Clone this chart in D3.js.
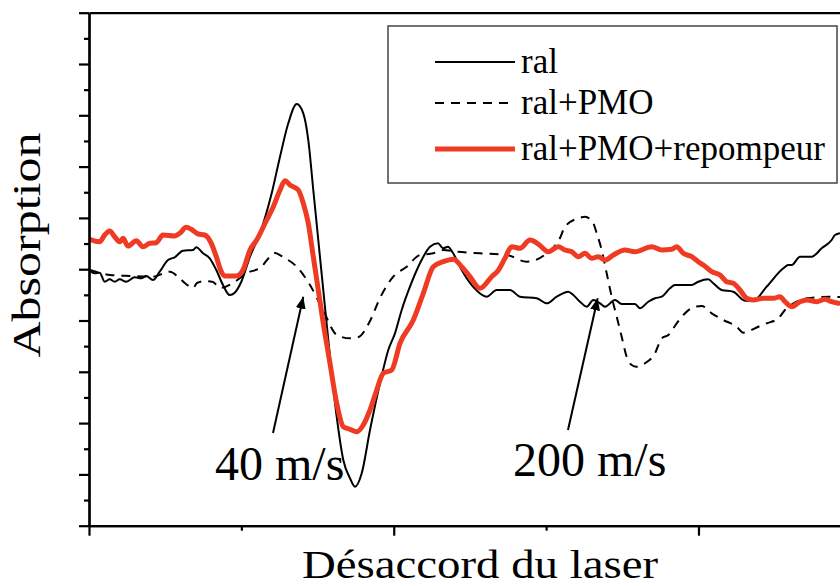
<!DOCTYPE html>
<html><head><meta charset="utf-8">
<script src="https://cdn.jsdelivr.net/npm/d3@7"></script>
<style>body{margin:0;background:#fff}svg{display:block}</style>
</head><body><svg id="c" width="840" height="586"></svg>
<script>
// ---- data (arbitrary units) ----
const seriesNames = ["ral", "ral+PMO", "ral+PMO+repompeur"];
const xTicksMajor = [0, 100, 200];
const xTicksMinor = [50, 150];
const yTicksMajor = [0,10,20,30,40,50,60,70,80,90,100];
const yTicksMinor = [5,15,25,35,45,55,65,75,85,95];
const xTitle = "Désaccord du laser";
const yTitle = "Absorption";

const ral = [[0.23,49.71],[1.87,49.20],[3.51,49.32],[5.15,47.56],[6.79,48.03],[8.43,47.56],[10.07,48.03],[12.24,47.56],[15.00,48.42],[17.16,48.23],[18.80,48.67],[21.00,47.89],[23.20,49.51],[25.92,51.79],[28.12,52.32],[30.85,53.61],[34.13,53.74],[35.21,54.27],[37.41,53.10],[39.61,52.12],[41.77,49.84],[43.97,46.92],[46.17,44.97],[47.81,45.42],[49.98,47.56],[52.83,52.44],[56.11,57.00],[59.95,64.79],[62.68,71.93],[65.40,78.44],[68.16,82.20],[70.32,80.39],[71.96,75.18],[73.60,65.44],[75.24,55.69],[76.88,45.94],[79.08,32.94],[81.28,21.25],[83.45,12.81],[85.65,9.24],[87.29,7.60],[89.49,10.21],[92.21,18.65],[95.49,27.76],[98.21,34.25],[100.41,37.50],[102.61,42.05],[105.33,46.59],[108.61,51.15],[111.90,54.39],[114.52,55.05],[116.16,54.07],[117.80,54.39],[119.44,53.16],[122.30,49.84],[126.01,46.59],[130.50,44.64],[133.78,45.95],[138.15,45.95],[141.43,44.64],[146.91,44.33],[150.19,43.35],[153.47,44.64],[157.28,45.61],[158.92,44.97],[161.12,43.66],[163.32,42.69],[165.48,44.00],[167.68,43.35],[169.32,42.69],[172.60,44.00],[174.80,43.22],[179.16,43.22],[180.80,42.38],[183.53,43.66],[185.73,44.33],[187.93,44.64],[190.65,46.28],[192.29,46.92],[197.77,46.92],[199.94,47.56],[203.22,48.03],[204.86,47.25],[207.62,45.95],[211.42,45.61],[215.26,43.86],[217.99,43.86],[222.38,46.59],[227.83,50.18],[229.47,50.82],[230.59,50.82],[233.31,52.44],[237.15,52.44],[240.43,54.07],[243.71,55.69],[244.80,56.67],[246.44,57.00]];

const ralPMO = [[0.33,49.84],[6.89,48.87],[13.45,48.67],[21.00,48.54],[26.58,49.51],[29.20,48.54],[31.83,47.11],[34.13,46.34],[35.44,47.31],[38.06,47.70],[40.69,47.50],[42.99,46.34],[47.25,47.31],[51.85,49.26],[56.11,50.23],[61.04,53.16],[63.66,52.38],[68.25,50.43],[72.52,46.92],[76.78,42.05],[81.37,37.17],[85.65,36.53],[88.27,36.72],[92.21,39.90],[95.49,44.39],[99.85,48.54],[104.25,50.49],[108.61,52.77],[112.98,53.10],[116.16,53.74],[120.66,53.41],[128.30,53.10],[137.07,52.77],[143.63,51.46],[150.19,53.10],[154.55,56.08],[156.20,58.28],[160.56,59.92],[162.76,60.23],[165.48,58.95],[166.60,57.00],[168.24,53.74],[169.88,49.20],[171.52,44.64],[173.16,40.74],[174.80,36.84],[176.44,32.94],[178.08,31.33],[179.72,30.99],[182.44,31.66],[185.73,33.61],[187.93,36.53],[190.10,37.17],[192.85,39.45],[195.02,41.07],[198.86,42.69],[201.06,42.83],[204.34,41.40],[208.14,40.10],[212.54,38.79],[214.70,37.62],[219.63,38.79],[222.38,39.45],[226.19,40.43],[228.39,42.05],[232.22,43.66],[235.51,44.33],[243.15,44.64],[246.44,44.58]];

const ralPMORep = [[0.23,55.83],[3.51,55.36],[5.15,56.67],[6.79,57.45],[8.43,56.33],[10.07,55.36],[11.16,56.02],[12.80,54.52],[15.52,55.56],[17.72,54.39],[19.92,55.05],[22.08,55.17],[24.28,56.67],[28.12,56.47],[29.76,57.00],[31.93,58.17],[33.57,57.78],[35.77,56.86],[37.97,56.67],[40.13,55.05],[41.77,52.44],[43.41,49.51],[44.53,48.67],[48.34,48.67],[50.53,49.84],[52.83,53.74],[55.03,55.69],[58.31,59.59],[60.48,62.18],[62.68,65.44],[64.32,67.25],[65.96,66.41],[68.68,65.44],[70.32,62.85],[71.96,58.95],[73.60,52.44],[75.24,45.94],[76.88,39.45],[79.08,31.66],[81.28,23.86],[83.45,19.30],[85.65,18.79],[87.84,18.32],[90.01,19.63],[92.21,22.55],[94.41,26.45],[96.57,29.71],[99.33,30.35],[102.05,35.56],[106.42,40.10],[109.70,45.30],[112.98,50.49],[116.26,51.46],[119.54,51.93],[122.30,50.49],[125.02,48.54],[128.30,46.28],[132.14,48.54],[134.21,49.71],[136.50,52.12],[138.70,54.39],[141.43,54.07],[144.71,55.69],[147.44,54.91],[150.72,53.41],[154.00,54.39],[156.20,53.74],[158.39,53.41],[160.56,52.44],[162.76,53.10],[164.96,52.12],[167.13,52.44],[169.32,51.79],[172.05,52.77],[175.88,53.74],[179.16,53.41],[184.64,54.39],[187.93,53.74],[191.21,53.88],[192.85,54.39],[195.02,53.10],[197.77,52.44],[199.94,51.46],[201.58,50.82],[204.34,49.51],[207.06,48.87],[209.26,47.56],[211.42,47.25],[213.62,45.94],[215.82,44.33],[217.99,44.00],[221.27,44.33],[224.55,44.33],[226.75,44.64],[228.39,43.66],[230.59,42.69],[233.31,43.66],[235.51,44.00],[238.79,43.66],[241.52,44.13],[243.71,43.66],[245.88,43.35]];

// annotations: label, text anchor point, arrow tail, arrow tip (data units)
const annotLabels = ["40 m/s", "200 m/s"];
const annotText = [[41.35, 9.0], [139.13, 9.6]];
const annotTail = [[60.38, 18.07], [157.18, 18.65]];
const annotTip = [[70.32, 44.64], [166.93, 44.33]];

// ---- drawing ----
(function () {
const svg = d3.select("#c");
const W = 840, H = 586;
const mL = 89, mR = 840, mT = 12.7, mB = 525.7;
const x = d3.scaleLinear().domain([0, 246.44]).range([mL, mR]);
const y = d3.scaleLinear().domain([0, 100]).range([mB, mT]);
const FONT = "'Liberation Serif','Times New Roman',Times,serif";

svg.append("rect").attr("width", W).attr("height", H).attr("fill", "#fff");

const defs = svg.append("defs");
defs.append("clipPath").attr("id", "clip")
  .append("rect").attr("x", mL).attr("y", mT).attr("width", mR - mL).attr("height", mB - mT);

const gCurves = svg.append("g").attr("clip-path", "url(#clip)");
const line = d3.line().x(d => x(d[0])).y(d => y(d[1])).curve(d3.curveMonotoneX);

gCurves.append("path").datum(ralPMO).attr("d", line)
  .attr("fill", "none").attr("stroke", "#000").attr("stroke-width", 2).attr("stroke-dasharray", "9,7");
gCurves.append("path").datum(ral).attr("d", line)
  .attr("fill", "none").attr("stroke", "#000").attr("stroke-width", 2).attr("stroke-linejoin", "round");
gCurves.append("path").datum(ralPMORep).attr("d", line)
  .attr("fill", "none").attr("stroke", "#ef3b24").attr("stroke-width", 5).attr("stroke-linejoin", "round").attr("stroke-linecap", "round");

// axes
function styleAxis(g) {
  g.selectAll("path.domain").attr("stroke", "#000").attr("stroke-width", 2.2);
  g.selectAll(".tick line").attr("stroke", "#000").attr("stroke-width", 2.2);
  g.selectAll(".tick text").remove();
}
svg.append("g").attr("transform", `translate(${mL},0)`)
  .call(d3.axisLeft(y).tickValues(yTicksMinor).tickSize(5).tickSizeOuter(0).tickFormat(""))
  .call(styleAxis);
svg.append("g").attr("transform", `translate(${mL},0)`)
  .call(d3.axisLeft(y).tickValues(yTicksMajor).tickSize(10).tickSizeOuter(0).tickFormat(""))
  .call(styleAxis);
svg.append("g").attr("transform", `translate(0,${mB})`)
  .call(d3.axisBottom(x).tickValues(xTicksMinor).tickSize(5).tickSizeOuter(0).tickFormat(""))
  .call(styleAxis);
svg.append("g").attr("transform", `translate(0,${mB})`)
  .call(d3.axisBottom(x).tickValues(xTicksMajor).tickSize(10).tickSizeOuter(0).tickFormat(""))
  .call(styleAxis);
svg.append("g").attr("transform", `translate(0,${mT})`)
  .call(d3.axisTop(x).tickValues([]).tickSizeOuter(0))
  .call(styleAxis);

// axis titles
svg.append("text").attr("x", 480).attr("y", 578)
  .attr("text-anchor", "middle").attr("font-family", FONT).attr("font-size", 40)
  .attr("textLength", 356).attr("lengthAdjust", "spacingAndGlyphs").text(xTitle);
svg.append("text").attr("transform", "translate(40,245) rotate(-90)")
  .attr("text-anchor", "middle").attr("font-family", FONT).attr("font-size", 40)
  .attr("textLength", 225).attr("lengthAdjust", "spacingAndGlyphs").text(yTitle);

// annotations
defs.append("marker").attr("id", "arr").attr("viewBox", "0 0 12 10").attr("refX", 12).attr("refY", 5)
  .attr("markerWidth", 12).attr("markerHeight", 10).attr("markerUnits", "userSpaceOnUse").attr("orient", "auto")
  .append("path").attr("d", "M0,0 L12,5 L0,10 Z").attr("fill", "#000");
annotLabels.forEach((lab, i) => {
  svg.append("line").attr("x1", x(annotTail[i][0])).attr("y1", y(annotTail[i][1]))
    .attr("x2", x(annotTip[i][0])).attr("y2", y(annotTip[i][1]))
    .attr("stroke", "#000").attr("stroke-width", 2).attr("marker-end", "url(#arr)");
  svg.append("text").attr("x", x(annotText[i][0])).attr("y", y(annotText[i][1]))
    .attr("font-family", FONT).attr("font-size", 48).text(lab);
});

// legend
const lg = svg.append("g");
lg.append("rect").attr("x", 388).attr("y", 26).attr("width", 449).attr("height", 157)
  .attr("fill", "#fff").attr("stroke", "#444").attr("stroke-width", 1.5);
const legStyles = [
  {stroke: "#000", w: 2, dash: null},
  {stroke: "#000", w: 2, dash: "9,7"},
  {stroke: "#ef3b24", w: 5, dash: null}
];
const legY = [62, 103, 149];
seriesNames.forEach((name, i) => {
  lg.append("line").attr("x1", 435).attr("x2", 515).attr("y1", legY[i]).attr("y2", legY[i])
    .attr("stroke", legStyles[i].stroke).attr("stroke-width", legStyles[i].w)
    .attr("stroke-dasharray", legStyles[i].dash);
  lg.append("text").attr("x", 521).attr("y", legY[i] + 11).attr("font-family", FONT)
    .attr("font-size", 35).text(name);
});
})();
</script></body></html>
